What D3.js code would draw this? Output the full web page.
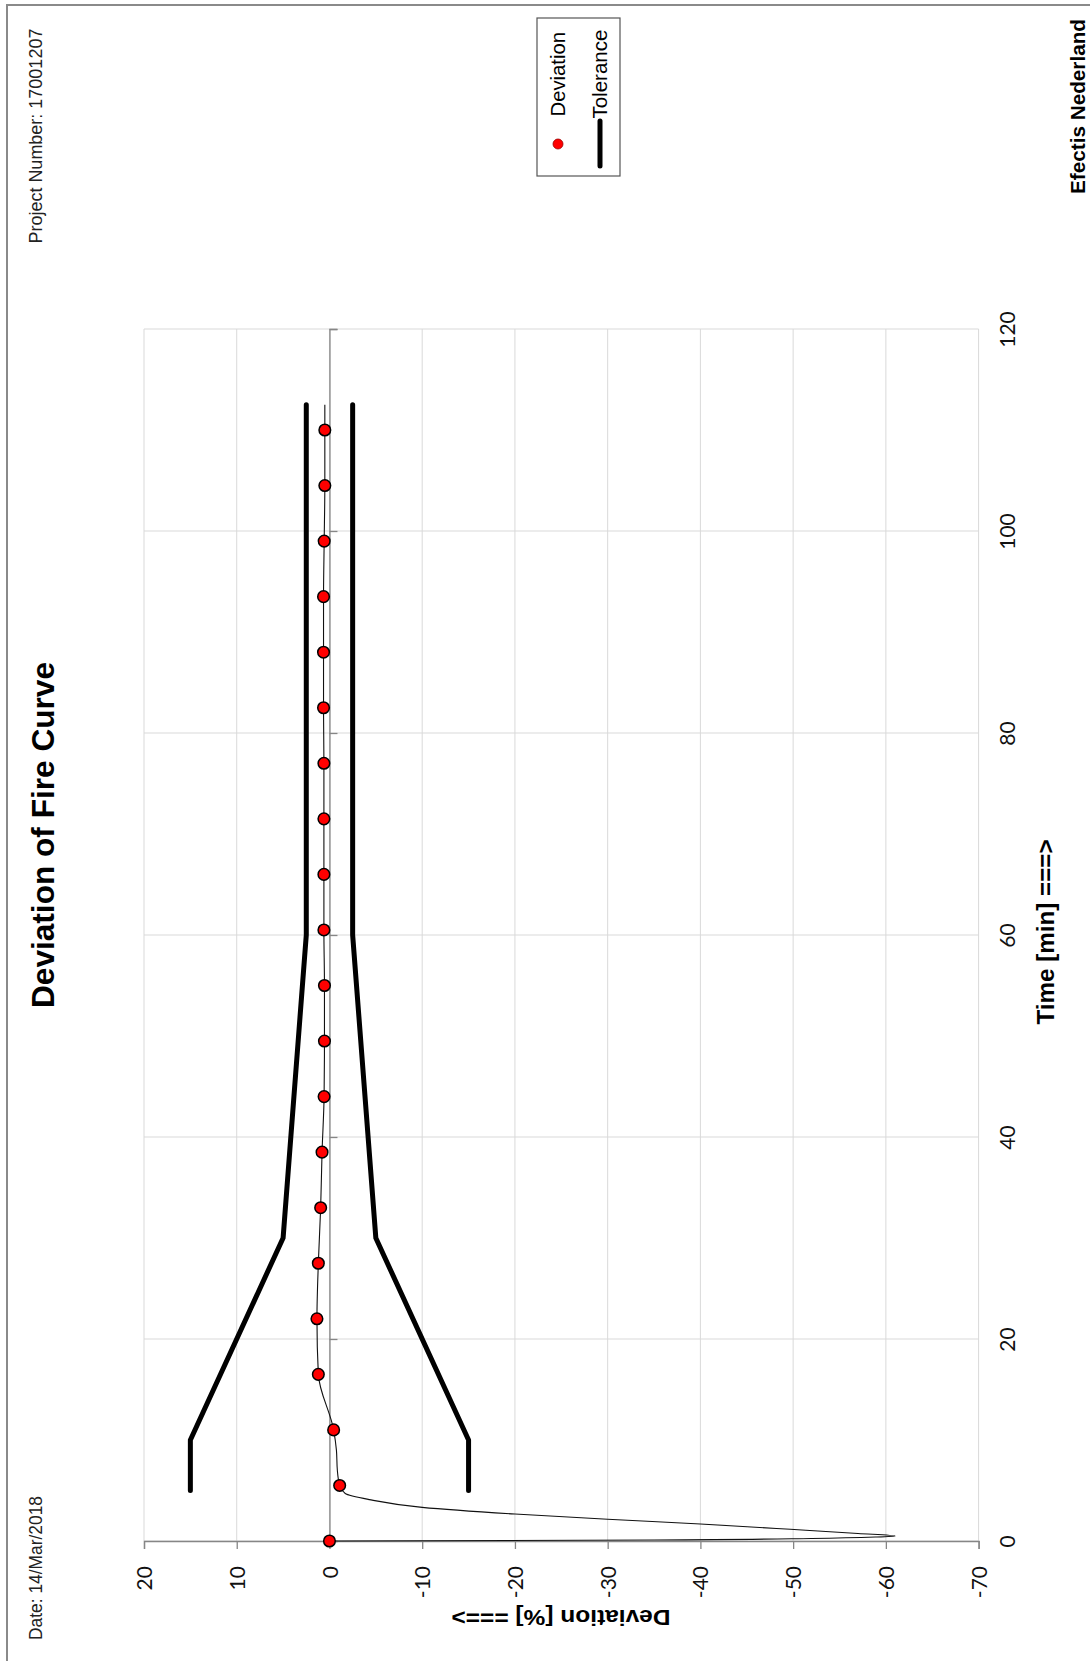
<!DOCTYPE html>
<html>
<head>
<meta charset="utf-8">
<script src="https://cdn.jsdelivr.net/npm/d3@7"></script>
<style>
  html, body { margin: 0; padding: 0; background: #fff; }
  svg { display: block; }
</style>
</head>
<body>
<script>
// Fire test deviation report: time (min) runs bottom-to-top, deviation (%) left-to-right.

// Deviation axis ticks (%)
const deviationTicks = [20, 10, 0, -10, -20, -30, -40, -50, -60, -70];
// Time axis ticks (min)
const timeTicks = [0, 20, 40, 60, 80, 100, 120];

// Measured deviation curve (thin line)
const curveTime = [0, 0.1, 0.25, 0.4, 0.5, 0.75, 1.16, 1.68, 2.15, 2.67, 3.33, 4.1, 4.7, 5.5,
  7, 9, 11, 16.5, 22, 27.5, 33, 38.5, 44, 49.5, 55, 60.5, 66, 71.5, 77, 82.5, 88, 93.5, 99,
  104.5, 110, 112.5];
const curveDeviation = [0, -35, -52, -59, -61, -57, -49.7, -40, -30, -20, -10, -4.3, -1.7, -1.1,
  -0.85, -0.75, -0.45, 1.2, 1.35, 1.2, 0.95, 0.8, 0.58, 0.54, 0.54, 0.6, 0.6, 0.6, 0.6, 0.64,
  0.64, 0.64, 0.57, 0.5, 0.5, 0.5];

// Deviation markers (every 5.5 min)
const markerTime = [0, 5.5, 11, 16.5, 22, 27.5, 33, 38.5, 44, 49.5, 55, 60.5, 66, 71.5, 77,
  82.5, 88, 93.5, 99, 104.5, 110];
const markerDeviation = [0, -1.1, -0.45, 1.2, 1.35, 1.2, 0.95, 0.8, 0.58, 0.54, 0.54, 0.6, 0.6,
  0.6, 0.6, 0.64, 0.64, 0.64, 0.57, 0.5, 0.5];

// Tolerance band (upper and lower limits)
const toleranceTime = [5, 10, 30, 60, 112.5];
const toleranceUpper = [15, 15, 5, 2.5, 2.5];
const toleranceLower = [-15, -15, -5, -2.5, -2.5];

const W = 1090, H = 1661;
const svg = d3.select("body").append("svg").attr("width", W).attr("height", H);

// page frame
svg.append("rect").attr("x", 7).attr("y", 5).attr("width", W + 20).attr("height", H + 20)
  .attr("fill", "none").attr("stroke", "#8a8a8a").attr("stroke-width", 2);

const x = d3.scaleLinear().domain([20, -70]).range([144, 978.6]);
const y = d3.scaleLinear().domain([0, 120]).range([1541, 329]);

// gridlines
const grid = svg.append("g");
grid.selectAll("line.v").data(deviationTicks).join("line")
  .attr("x1", d => x(d)).attr("x2", d => x(d)).attr("y1", y(120)).attr("y2", y(0))
  .attr("stroke", "#d9d9d9").attr("stroke-width", 1);
grid.selectAll("line.h").data(timeTicks).join("line")
  .attr("x1", x(20)).attr("x2", x(-70)).attr("y1", d => y(d)).attr("y2", d => y(d))
  .attr("stroke", "#d9d9d9").attr("stroke-width", 1);

// deviation axis along t = 0
const devAxis = svg.append("g").attr("transform", `translate(0,${y(0)})`)
  .call(d3.axisBottom(x).tickValues(deviationTicks).tickSize(8).tickFormat(d => String(d)));
devAxis.select(".domain").attr("stroke", "#868686").attr("stroke-width", 1.3);
devAxis.selectAll(".tick line").attr("stroke", "#868686").attr("stroke-width", 1.3);
devAxis.selectAll(".tick text")
  .attr("font-family", "Lato, 'Open Sans', sans-serif").attr("font-size", 21).attr("fill", "#111")
  .attr("text-anchor", "end").attr("x", -25).attr("y", 0).attr("dy", "0.36em")
  .attr("transform", "rotate(-90)");

// time axis along deviation = 0 (tick marks only)
const timeAxis = svg.append("g").attr("transform", `translate(${x(0)},0)`)
  .call(d3.axisRight(y).tickValues(timeTicks).tickSize(8).tickFormat(""));
timeAxis.select(".domain").attr("stroke", "#868686").attr("stroke-width", 1.3);
timeAxis.selectAll(".tick line").attr("stroke", "#868686").attr("stroke-width", 1.3);

// time labels along the right edge
const timeLabels = svg.append("g").attr("transform", `translate(${x(-70)},0)`)
  .call(d3.axisRight(y).tickValues(timeTicks).tickSize(0).tickFormat(d => String(d)));
timeLabels.select(".domain").remove();
timeLabels.selectAll(".tick text")
  .attr("font-family", "Lato, 'Open Sans', sans-serif").attr("font-size", 21).attr("fill", "#111")
  .attr("text-anchor", "middle").attr("x", 0).attr("y", 0).attr("dy", "0.36em")
  .attr("transform", "translate(29,0) rotate(-90)");

// tolerance limits
const tolLine = d3.line().x(d => x(d[1])).y(d => y(d[0]));
[toleranceUpper, toleranceLower].forEach(lim => {
  svg.append("path")
    .attr("d", tolLine(toleranceTime.map((t, i) => [t, lim[i]])))
    .attr("fill", "none").attr("stroke", "#000").attr("stroke-width", 5)
    .attr("stroke-linejoin", "round").attr("stroke-linecap", "round");
});

// deviation curve
const devLine = d3.line().x(d => x(d[1])).y(d => y(d[0])).curve(d3.curveMonotoneY);
svg.append("path")
  .attr("d", devLine(curveTime.map((t, i) => [t, curveDeviation[i]])))
  .attr("fill", "none").attr("stroke", "#111").attr("stroke-width", 1.1);

// markers
svg.append("g").selectAll("circle").data(markerTime.map((t, i) => [t, markerDeviation[i]]))
  .join("circle")
  .attr("cx", d => x(d[1])).attr("cy", d => y(d[0])).attr("r", 5.8)
  .attr("fill", "#ff0000").attr("stroke", "#000").attr("stroke-width", 1.5);

// titles and labels
const rotText = (tx, ty, angle, txt, opts) => {
  const t = svg.append("text")
    .attr("transform", `translate(${tx},${ty}) rotate(${angle})`)
    .attr("font-family", opts.family || "'Liberation Sans', Arial, sans-serif")
    .attr("font-size", opts.size).attr("font-weight", opts.weight || "normal")
    .attr("fill", opts.fill || "#000")
    .attr("text-anchor", opts.anchor || "start")
    .attr("dy", opts.dy || "0.35em")
    .text(txt);
  if (opts.len) t.attr("textLength", opts.len).attr("lengthAdjust", "spacingAndGlyphs");
  return t;
};

rotText(43, 835, -90, "Deviation of Fire Curve", { size: 31, weight: "bold", anchor: "middle", len: 346 });
rotText(36, 243.6, -90, "Project Number:  17001207", { size: 18, fill: "#222", len: 215 });
rotText(36, 1640, -90, "Date:  14/Mar/2018", { size: 18, fill: "#222", len: 144 });
rotText(1078, 194, -90, "Efectis Nederland", { size: 21, weight: "bold", len: 175 });
rotText(1046, 932, -90, "Time [min] ===>", { size: 23, weight: "bold", anchor: "middle", len: 185 });
rotText(561, 1618, 180, "Deviation [%] ===>", { size: 22, weight: "bold", anchor: "middle", len: 219 });

// legend
svg.append("rect").attr("x", 537).attr("y", 18).attr("width", 83).attr("height", 158)
  .attr("fill", "#fff").attr("stroke", "#555").attr("stroke-width", 1.2);
svg.append("circle").attr("cx", 558).attr("cy", 144).attr("r", 5)
  .attr("fill", "#ff0000").attr("stroke", "#900").attr("stroke-width", 0.8);
svg.append("line").attr("x1", 600).attr("x2", 600).attr("y1", 121).attr("y2", 166)
  .attr("stroke", "#000").attr("stroke-width", 5).attr("stroke-linecap", "round");
rotText(558, 116.5, -90, "Deviation", { size: 20, len: 84.5 });
rotText(600, 118.6, -90, "Tolerance", { size: 20, len: 89 });
</script>
</body>
</html>
